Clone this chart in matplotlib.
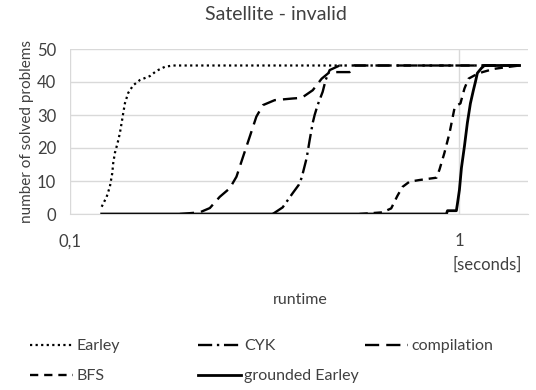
import matplotlib
matplotlib.use('Agg')
import matplotlib.pyplot as plt
from matplotlib.lines import Line2D

plt.rcParams['font.family'] = ['Lato', 'DejaVu Sans']

# runtime (seconds) / number of solved problems
earley_x = [0.1206, 0.1242, 0.1266, 0.1284, 0.1291, 0.1304, 0.1325, 0.1343, 0.1357, 0.137,
            0.1384, 0.1411, 0.1453, 0.1512, 0.1604, 0.1669, 0.1752, 0.1837, 0.5]
earley_y = [2.2, 5.2, 8.3, 12.4, 15.4, 18.5, 21.5, 24.5, 27.6, 30.6,
            33.6, 36.7, 39, 40.6, 41.8, 43.4, 44.6, 45, 45]

cyk_x = [0.3315, 0.3516, 0.373, 0.3866, 0.3935, 0.4053, 0.4125, 0.42, 0.4248, 0.4324,
         0.4454, 0.4534, 0.4642, 0.4924, 1.427]
cyk_y = [0, 2, 6.3, 8.8, 11, 17, 22.4, 27.6, 30, 33, 37, 40.6, 43.6, 45, 45]

comp_x = [0.1915, 0.2154, 0.2286, 0.2424, 0.2572, 0.2676, 0.2783, 0.2894, 0.301, 0.313,
          0.3355, 0.373, 0.3935, 0.42, 0.4428, 0.4642, 0.5223, 0.538, 1.427]
comp_y = [0, 0.5, 1.8, 5.2, 7.8, 11.3, 17.4, 23.4, 29.5, 33,
          34.5, 35, 35.2, 37.5, 41, 43, 43, 45, 45]

bfs_x = [0.554, 0.6347, 0.668, 0.693, 0.714, 0.7445, 0.79, 0.873, 0.889, 0.915,
         0.943, 0.971, 0.988, 1.006, 1.03, 1.055, 1.093, 1.146, 1.23, 1.32, 1.427]
bfs_y = [0, 0.5, 1.7, 5.5, 8.2, 9.8, 10.3, 11, 13.5, 18.5,
         24.5, 32, 33, 33.5, 38, 41, 42, 43, 44, 44.5, 45]

ground_x = [0.1206, 0.926, 0.932, 0.982, 0.988, 1.0, 1.012, 1.03, 1.048, 1.067,
            1.086, 1.099, 1.112, 1.139, 1.159, 1.427]
ground_y = [0, 0, 1, 1, 3, 7.3, 14, 20.5, 27.6, 33.5,
            37.5, 40, 42.7, 44.2, 45, 45]

fig = plt.figure(figsize=(5.36, 3.90), dpi=100)
ax = fig.add_axes([70/536, 1-214/390, 458/536, 165/390])

styles = {
    'Earley': dict(ls=(0, (1, 1.5)), lw=1.6),
    'CYK': dict(ls=(0, (6, 2, 1, 2)), lw=1.7),
    'compilation': dict(ls=(0, (6, 3)), lw=1.7),
    'BFS': dict(ls=(0, (3.5, 2.5)), lw=1.7),
    'grounded Earley': dict(ls='-', lw=2.0),
}

ax.plot(ground_x, ground_y, color='black', **styles['grounded Earley'])
ax.plot(earley_x, earley_y, color='black', **styles['Earley'])
ax.plot(cyk_x, cyk_y, color='black', **styles['CYK'])
ax.plot(comp_x, comp_y, color='black', **styles['compilation'])
ax.plot(bfs_x, bfs_y, color='black', **styles['BFS'])

ax.set_xscale('log')
ax.set_xlim(0.1, 1.5)
ax.set_ylim(0, 50)
ax.set_xticks([0.1, 1])
ax.set_xticklabels(['0,1', '1'])
ax.xaxis.set_minor_locator(matplotlib.ticker.NullLocator())
ax.set_yticks(range(0, 51, 10))
ax.grid(True, color='#d9d9d9', lw=1)
ax.set_axisbelow(True)
for s in ['top', 'right', 'left']:
    ax.spines[s].set_visible(False)
ax.spines['bottom'].set_color('#d9d9d9')
ax.tick_params(length=0, labelsize=12, colors='#404040')
ax.tick_params(axis='x', pad=14)
ax.tick_params(axis='y', pad=10)
ax.set_ylabel('number of solved problems', fontsize=11, color='#404040', labelpad=2)

fig.text(276/536, 1-15/390, 'Satellite - invalid', ha='center', va='center', fontsize=14, color='#404040')
fig.text(522/536, 1-265/390, '[seconds]', ha='right', va='center', fontsize=12, color='#404040')
fig.text(300/536, 1-300/390, 'runtime', ha='center', va='center', fontsize=11.5, color='#404040')

# legend, three columns placed by hand
cols = [(['Earley', 'BFS'], 30), (['CYK', 'grounded Earley'], 198), (['compilation'], 365)]
for names, x0 in cols:
    handles = [Line2D([], [], color='black', **styles[n]) for n in names]
    fig.legend(handles, names, loc='upper left', bbox_to_anchor=(x0/536, 1-339/390),
               frameon=False, fontsize=11.5, handlelength=2.7, handletextpad=0.2,
               labelspacing=1.0, borderaxespad=0, borderpad=0, labelcolor='#404040')

fig.savefig('out.png', dpi=100)
